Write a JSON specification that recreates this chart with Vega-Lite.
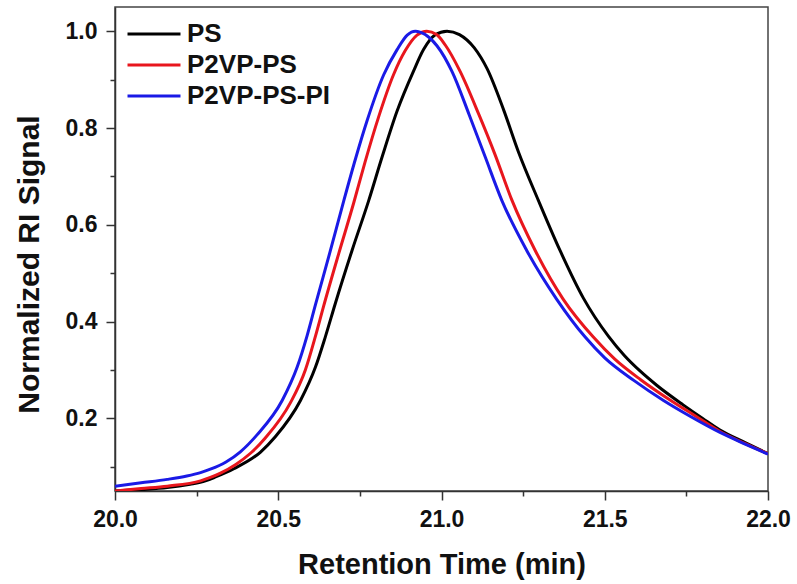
{
  "$schema": "https://vega.github.io/schema/vega-lite/v6.json",
  "autosize": {"type": "none"},
  "padding": {"left": 115, "top": 7, "right": 29, "bottom": 93},
  "width": 653,
  "height": 484,
  "background": "white",
  "config": {
    "font": "Liberation Sans",
    "view": {"stroke": "#444", "strokeWidth": 1.5}
  },
  "data": {"values": [
    {"series": "PS", "t": 20.000, "signal": 0.050},
    {"series": "PS", "t": 20.080, "signal": 0.053},
    {"series": "PS", "t": 20.160, "signal": 0.057},
    {"series": "PS", "t": 20.230, "signal": 0.064},
    {"series": "PS", "t": 20.277, "signal": 0.071},
    {"series": "PS", "t": 20.308, "signal": 0.079},
    {"series": "PS", "t": 20.364, "signal": 0.096},
    {"series": "PS", "t": 20.445, "signal": 0.130},
    {"series": "PS", "t": 20.491, "signal": 0.162},
    {"series": "PS", "t": 20.568, "signal": 0.237},
    {"series": "PS", "t": 20.614, "signal": 0.306},
    {"series": "PS", "t": 20.644, "signal": 0.368},
    {"series": "PS", "t": 20.675, "signal": 0.438},
    {"series": "PS", "t": 20.726, "signal": 0.547},
    {"series": "PS", "t": 20.777, "signal": 0.650},
    {"series": "PS", "t": 20.818, "signal": 0.740},
    {"series": "PS", "t": 20.864, "signal": 0.835},
    {"series": "PS", "t": 20.914, "signal": 0.917},
    {"series": "PS", "t": 20.945, "signal": 0.962},
    {"series": "PS", "t": 20.980, "signal": 0.992},
    {"series": "PS", "t": 21.017, "signal": 1.000},
    {"series": "PS", "t": 21.055, "signal": 0.993},
    {"series": "PS", "t": 21.100, "signal": 0.966},
    {"series": "PS", "t": 21.140, "signal": 0.922},
    {"series": "PS", "t": 21.190, "signal": 0.838},
    {"series": "PS", "t": 21.236, "signal": 0.750},
    {"series": "PS", "t": 21.297, "signal": 0.650},
    {"series": "PS", "t": 21.363, "signal": 0.547},
    {"series": "PS", "t": 21.435, "signal": 0.448},
    {"series": "PS", "t": 21.511, "signal": 0.370},
    {"series": "PS", "t": 21.560, "signal": 0.330},
    {"series": "PS", "t": 21.608, "signal": 0.298},
    {"series": "PS", "t": 21.660, "signal": 0.268},
    {"series": "PS", "t": 21.740, "signal": 0.228},
    {"series": "PS", "t": 21.800, "signal": 0.200},
    {"series": "PS", "t": 21.853, "signal": 0.176},
    {"series": "PS", "t": 21.930, "signal": 0.150},
    {"series": "PS", "t": 22.000, "signal": 0.127},

    {"series": "P2VP-PS", "t": 20.000, "signal": 0.050},
    {"series": "P2VP-PS", "t": 20.080, "signal": 0.055},
    {"series": "P2VP-PS", "t": 20.160, "signal": 0.060},
    {"series": "P2VP-PS", "t": 20.262, "signal": 0.071},
    {"series": "P2VP-PS", "t": 20.292, "signal": 0.078},
    {"series": "P2VP-PS", "t": 20.323, "signal": 0.087},
    {"series": "P2VP-PS", "t": 20.370, "signal": 0.105},
    {"series": "P2VP-PS", "t": 20.415, "signal": 0.128},
    {"series": "P2VP-PS", "t": 20.461, "signal": 0.160},
    {"series": "P2VP-PS", "t": 20.537, "signal": 0.232},
    {"series": "P2VP-PS", "t": 20.583, "signal": 0.300},
    {"series": "P2VP-PS", "t": 20.614, "signal": 0.370},
    {"series": "P2VP-PS", "t": 20.639, "signal": 0.432},
    {"series": "P2VP-PS", "t": 20.685, "signal": 0.540},
    {"series": "P2VP-PS", "t": 20.731, "signal": 0.645},
    {"series": "P2VP-PS", "t": 20.766, "signal": 0.730},
    {"series": "P2VP-PS", "t": 20.807, "signal": 0.822},
    {"series": "P2VP-PS", "t": 20.853, "signal": 0.910},
    {"series": "P2VP-PS", "t": 20.889, "signal": 0.960},
    {"series": "P2VP-PS", "t": 20.925, "signal": 0.992},
    {"series": "P2VP-PS", "t": 20.955, "signal": 1.000},
    {"series": "P2VP-PS", "t": 20.985, "signal": 0.993},
    {"series": "P2VP-PS", "t": 21.011, "signal": 0.972},
    {"series": "P2VP-PS", "t": 21.057, "signal": 0.917},
    {"series": "P2VP-PS", "t": 21.115, "signal": 0.827},
    {"series": "P2VP-PS", "t": 21.164, "signal": 0.745},
    {"series": "P2VP-PS", "t": 21.215, "signal": 0.652},
    {"series": "P2VP-PS", "t": 21.287, "signal": 0.547},
    {"series": "P2VP-PS", "t": 21.373, "signal": 0.446},
    {"series": "P2VP-PS", "t": 21.465, "signal": 0.368},
    {"series": "P2VP-PS", "t": 21.530, "signal": 0.323},
    {"series": "P2VP-PS", "t": 21.610, "signal": 0.280},
    {"series": "P2VP-PS", "t": 21.700, "signal": 0.238},
    {"series": "P2VP-PS", "t": 21.780, "signal": 0.204},
    {"series": "P2VP-PS", "t": 21.853, "signal": 0.173},
    {"series": "P2VP-PS", "t": 21.930, "signal": 0.148},
    {"series": "P2VP-PS", "t": 22.000, "signal": 0.127},

    {"series": "P2VP-PS-PI", "t": 20.000, "signal": 0.060},
    {"series": "P2VP-PS-PI", "t": 20.080, "signal": 0.067},
    {"series": "P2VP-PS-PI", "t": 20.160, "signal": 0.074},
    {"series": "P2VP-PS-PI", "t": 20.220, "signal": 0.081},
    {"series": "P2VP-PS-PI", "t": 20.262, "signal": 0.088},
    {"series": "P2VP-PS-PI", "t": 20.292, "signal": 0.095},
    {"series": "P2VP-PS-PI", "t": 20.340, "signal": 0.110},
    {"series": "P2VP-PS-PI", "t": 20.384, "signal": 0.131},
    {"series": "P2VP-PS-PI", "t": 20.435, "signal": 0.166},
    {"series": "P2VP-PS-PI", "t": 20.512, "signal": 0.237},
    {"series": "P2VP-PS-PI", "t": 20.558, "signal": 0.306},
    {"series": "P2VP-PS-PI", "t": 20.588, "signal": 0.370},
    {"series": "P2VP-PS-PI", "t": 20.614, "signal": 0.435},
    {"series": "P2VP-PS-PI", "t": 20.659, "signal": 0.545},
    {"series": "P2VP-PS-PI", "t": 20.700, "signal": 0.648},
    {"series": "P2VP-PS-PI", "t": 20.736, "signal": 0.735},
    {"series": "P2VP-PS-PI", "t": 20.772, "signal": 0.815},
    {"series": "P2VP-PS-PI", "t": 20.823, "signal": 0.910},
    {"series": "P2VP-PS-PI", "t": 20.864, "signal": 0.962},
    {"series": "P2VP-PS-PI", "t": 20.895, "signal": 0.992},
    {"series": "P2VP-PS-PI", "t": 20.920, "signal": 1.000},
    {"series": "P2VP-PS-PI", "t": 20.950, "signal": 0.993},
    {"series": "P2VP-PS-PI", "t": 20.986, "signal": 0.970},
    {"series": "P2VP-PS-PI", "t": 21.032, "signal": 0.917},
    {"series": "P2VP-PS-PI", "t": 21.085, "signal": 0.827},
    {"series": "P2VP-PS-PI", "t": 21.134, "signal": 0.740},
    {"series": "P2VP-PS-PI", "t": 21.185, "signal": 0.650},
    {"series": "P2VP-PS-PI", "t": 21.261, "signal": 0.547},
    {"series": "P2VP-PS-PI", "t": 21.353, "signal": 0.446},
    {"series": "P2VP-PS-PI", "t": 21.440, "signal": 0.368},
    {"series": "P2VP-PS-PI", "t": 21.500, "signal": 0.325},
    {"series": "P2VP-PS-PI", "t": 21.590, "signal": 0.278},
    {"series": "P2VP-PS-PI", "t": 21.680, "signal": 0.237},
    {"series": "P2VP-PS-PI", "t": 21.760, "signal": 0.205},
    {"series": "P2VP-PS-PI", "t": 21.853, "signal": 0.171},
    {"series": "P2VP-PS-PI", "t": 21.930, "signal": 0.147},
    {"series": "P2VP-PS-PI", "t": 22.000, "signal": 0.126}
  ]},
  "resolve": {"axis": {"x": "independent", "y": "independent"}},
  "layer": [
    {
      "mark": {"type": "line", "strokeWidth": 3, "interpolate": "monotone", "clip": true},
      "encoding": {
        "x": {
          "field": "t", "type": "quantitative",
          "scale": {"domain": [20, 22], "nice": false, "zero": false},
          "axis": {
            "orient": "bottom",
            "title": "Retention Time (min)",
            "values": [20, 20.5, 21, 21.5, 22],
            "format": ".1f",
            "tickSize": 9,
            "grid": false,
            "domainColor": "#333", "domainWidth": 1.5,
            "tickColor": "#333", "tickWidth": 1.5,
            "labelFontSize": 23, "labelFontWeight": "bold", "labelColor": "#111",
            "labelPadding": 8, "labelFlush": false,
            "titleFontSize": 29, "titleFontWeight": "bold", "titleColor": "#111",
            "titlePadding": 19
          }
        },
        "y": {
          "field": "signal", "type": "quantitative",
          "scale": {"domain": [0.05, 1.05], "nice": false, "zero": false},
          "axis": {
            "orient": "left",
            "title": "Normalized RI Signal",
            "values": [0.2, 0.4, 0.6, 0.8, 1.0],
            "format": ".1f",
            "tickSize": 9,
            "grid": false,
            "domainColor": "#333", "domainWidth": 1.5,
            "tickColor": "#333", "tickWidth": 1.5,
            "labelFontSize": 23, "labelFontWeight": "bold", "labelColor": "#111",
            "labelPadding": 9, "labelFlush": false,
            "titleFontSize": 30, "titleFontWeight": "bold", "titleColor": "#111",
            "titlePadding": 21,
            "titleY": 257
          }
        },
        "stroke": {
          "field": "series", "type": "nominal",
          "scale": {"domain": ["PS", "P2VP-PS", "P2VP-PS-PI"], "range": ["#000000", "#e8161d", "#1a1ae6"]},
          "legend": {
            "title": null,
            "orient": "none",
            "legendX": 24,
            "legendY": 12,
            "symbolType": "M-2,0H2",
            "symbolSize": 702,
            "symbolStrokeWidth": 3,
            "labelFontSize": 26,
            "labelFontWeight": "bold",
            "labelColor": "#111",
            "labelOffset": 18,
            "rowPadding": 3,
            "padding": 0
          }
        }
      }
    },
    {
      "mark": {"type": "point", "opacity": 0},
      "encoding": {
        "x": {
          "field": "t", "type": "quantitative",
          "axis": {
            "orient": "bottom",
            "title": null,
            "values": [20.25, 20.75, 21.25, 21.75],
            "labels": false,
            "domain": false,
            "grid": false,
            "tickSize": 5,
            "tickColor": "#333", "tickWidth": 1.5
          }
        },
        "y": {
          "field": "signal", "type": "quantitative",
          "axis": {
            "orient": "left",
            "title": null,
            "values": [0.1, 0.3, 0.5, 0.7, 0.9],
            "labels": false,
            "domain": false,
            "grid": false,
            "tickSize": 5,
            "tickColor": "#333", "tickWidth": 1.5
          }
        }
      }
    }
  ]
}
